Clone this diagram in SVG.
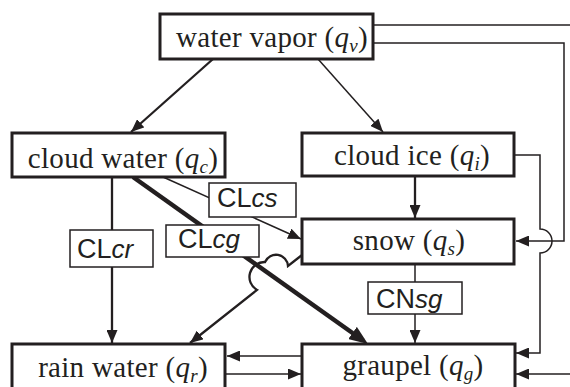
<svg xmlns="http://www.w3.org/2000/svg" width="570" height="387" viewBox="0 0 570 387">
  <style>
    .node rect { fill: #fff; stroke: #231f20; stroke-width: 3; }
    .node text { font-family: "Liberation Serif", "Times New Roman", serif; font-size: 29px; fill: #231f20; text-anchor: middle; letter-spacing: 0.3px; }
    .node .q { font-style: italic; }
    .node .sub { font-style: italic; font-size: 19px; }
    .lbl rect { fill: #fff; stroke: #231f20; stroke-width: 1.5; }
    .lbl text { font-family: "Liberation Sans", Arial, sans-serif; font-size: 27px; fill: #231f20; }
    .lbl .it { font-style: italic; font-size: 26px; }
    .edge { fill: none; stroke: #231f20; stroke-linejoin: miter; }
    .w1 { stroke-width: 1.5; }
    .w2 { stroke-width: 2.3; }
    .w4 { stroke-width: 4.5; }
  </style>
  <defs>
    <marker id="arr" markerUnits="userSpaceOnUse" markerWidth="13" markerHeight="11" refX="13" refY="5.5" orient="auto">
      <path d="M0,0 L13,5.5 L0,11 z" fill="#231f20"/>
    </marker>
    <marker id="arrBig" markerUnits="userSpaceOnUse" markerWidth="19" markerHeight="15" refX="13" refY="7.5" orient="auto">
      <path d="M0,0 L19,7.5 L0,15 z" fill="#231f20"/>
    </marker>
  </defs>

  <rect width="570" height="387" fill="#fff"/>

  <!-- connectors -->
  <g id="connectors">
    <path class="edge w2" d="M213,59 L131,132" marker-end="url(#arr)"/>
    <path class="edge w1" d="M318,59 L383,132" marker-end="url(#arr)"/>
    <path class="edge w2" d="M112,177 V343" marker-end="url(#arr)"/>
    <path class="edge w1" d="M163,177 L301,239" marker-end="url(#arr)"/>
    <path class="edge w4" d="M133,177 L363.1,340.5" marker-end="url(#arrBig)"/>
    <path class="edge w2" d="M415,176 V218" marker-end="url(#arr)"/>
    <path class="edge w1" d="M415,264 V343" marker-end="url(#arr)"/>
    <!-- snow to rain water, hopping over the graupel line -->
    <path class="edge w2" d="M302,255 L288,266 A12,12 0 0 0 265,262 A15,15 0 0 0 257,290 L190,343" marker-end="url(#arr)"/>
    <!-- rain water / graupel exchange -->
    <path class="edge w1" d="M302,356 H227" marker-end="url(#arr)"/>
    <path class="edge w1" d="M226,374 H301" marker-end="url(#arr)"/>
    <!-- right-hand feeds -->
    <path class="edge w1" d="M374,25 H570"/>
    <path class="edge w1" d="M374,43 H564 V241 H516" marker-end="url(#arr)"/>
    <path class="edge w1" d="M515,155 H540 V229 A12,12 0 0 1 540,253 V353 H516" marker-end="url(#arr)"/>
    <path class="edge w1" d="M570,374 H516" marker-end="url(#arr)"/>
  </g>

  <!-- process labels -->
  <g id="labels">
    <g id="lbl-CLcs" class="lbl">
      <rect x="209" y="183" width="87" height="34"/>
      <text x="217" y="207">CL<tspan class="it">cs</tspan></text>
    </g>
    <g id="lbl-CLcr" class="lbl">
      <rect x="70" y="230" width="83" height="37"/>
      <text x="77" y="258">CL<tspan class="it">cr</tspan></text>
    </g>
    <g id="lbl-CLcg" class="lbl">
      <rect x="166" y="225" width="93" height="32"/>
      <text x="178" y="248">CL<tspan class="it">cg</tspan></text>
    </g>
    <g id="lbl-CNsg" class="lbl">
      <rect x="368" y="282" width="94" height="32"/>
      <text x="376" y="308">CN<tspan class="it">sg</tspan></text>
    </g>
  </g>

  <!-- reservoirs -->
  <g id="water-vapor" class="node">
    <rect x="160" y="14" width="213" height="45"/>
    <text x="272" y="47">water vapor (<tspan class="q">q</tspan><tspan class="sub" dy="5">v</tspan><tspan dy="-5">)</tspan></text>
  </g>
  <g id="cloud-water" class="node">
    <rect x="12" y="133" width="213" height="44"/>
    <text x="123" y="168">cloud water (<tspan class="q">q</tspan><tspan class="sub" dy="5">c</tspan><tspan dy="-5">)</tspan></text>
  </g>
  <g id="cloud-ice" class="node">
    <rect x="302" y="133" width="212" height="43"/>
    <text x="412" y="165">cloud ice (<tspan class="q">q</tspan><tspan class="sub" dy="5">i</tspan><tspan dy="-5">)</tspan></text>
  </g>
  <g id="snow" class="node">
    <rect x="302" y="219" width="212" height="45"/>
    <text x="409" y="250">snow (<tspan class="q">q</tspan><tspan class="sub" dy="5">s</tspan><tspan dy="-5">)</tspan></text>
  </g>
  <g id="rain-water" class="node">
    <rect x="12" y="344" width="213" height="60"/>
    <text x="123" y="377">rain water (<tspan class="q">q</tspan><tspan class="sub" dy="5">r</tspan><tspan dy="-5">)</tspan></text>
  </g>
  <g id="graupel" class="node">
    <rect x="302" y="344" width="213" height="60"/>
    <text x="413" y="375">graupel (<tspan class="q">q</tspan><tspan class="sub" dy="5">g</tspan><tspan dy="-5">)</tspan></text>
  </g>
</svg>
